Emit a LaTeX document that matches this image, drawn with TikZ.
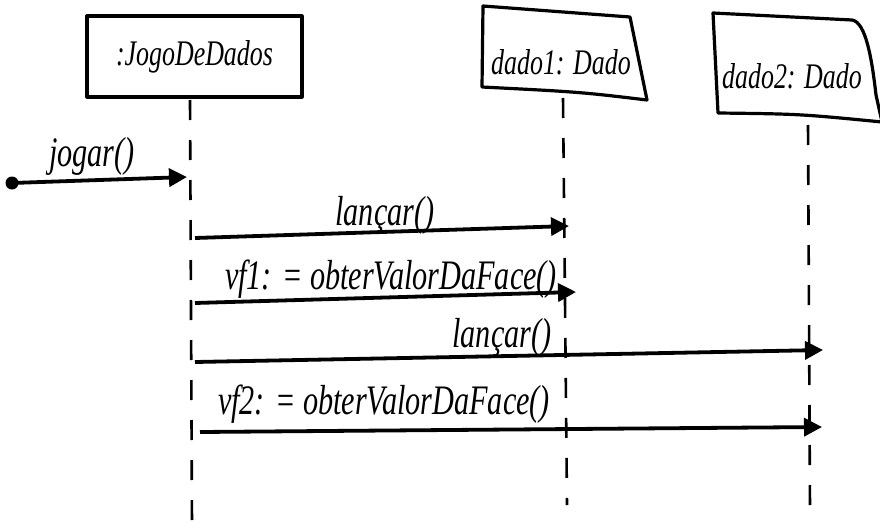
\documentclass[tikz,border=0pt]{standalone}
\usepackage{fontspec}
\setmainfont{Liberation Serif}
\newfontfamily\hand[FakeStretch=0.72]{Liberation Serif}
\usetikzlibrary{arrows.meta}
\begin{document}
\begin{tikzpicture}[x=1pt,y=-1pt,
  obj/.style={draw, line width=3.2pt, line join=round},
  life/.style={line width=2.6pt, dash pattern=on 20pt off 20pt},
  msg/.style={line width=3.8pt, -{Triangle[length=18pt,width=18pt]}},
  lbl/.style={font=\hand\itshape\fontsize{42}{42}\selectfont, inner sep=0pt},
  otxt/.style={font=\hand\itshape\fontsize{36}{36}\selectfont, inner sep=0pt}]
\useasboundingbox (0,0) rectangle (880,530);
% objects
\node[obj, otxt, minimum width=215pt, minimum height=81pt] (jogo) at (194.5,56.5) {:JogoDeDados};
\draw[obj] (483,6) -- (630,17) -- (647,100) .. controls (580,92) .. (482,87) -- cycle;
\node[otxt] (d1) at (561,62) {dado1: Dado};
\draw[obj] (713,13) -- (852,20) .. controls (866,22) and (872,60) .. (876,95) -- (882,122) .. controls (800,114) .. (718,113) -- cycle;
\node[otxt] (d2) at (792,76) {dado2: Dado};
% lifelines
\coordinate (l1t) at (190,100);
\coordinate (l1b) at (192,525);
\coordinate (l2t) at (563,98);
\coordinate (l2b) at (567,505);
\coordinate (l3t) at (808,125);
\coordinate (l3b) at (810,510);
\draw[life] (l1t) -- (l1b);
\draw[life] (l2t) -- (l2b);
\draw[life] (l3t) -- (l3b);
% messages
\coordinate (m0s) at (12,183);
\coordinate (m0e) at (187,177);
\fill (m0s) circle (6.5pt);
\draw[msg] (m0s) -- (m0e);
\node[lbl] (t0) at (92,156) {jogar()};
\coordinate (m1s) at (195,238);
\coordinate (m1e) at (569,226);
\draw[msg] (m1s) -- (m1e);
\node[lbl] (t1) at (385,215) {lançar()};
\coordinate (m2s) at (195,303);
\coordinate (m2e) at (576,292);
\draw[msg] (m2s) -- (m2e);
\node[lbl] (t2) at (391,279) {vf1: = obterValorDaFace()};
\coordinate (m3s) at (195,362);
\coordinate (m3e) at (823,350);
\draw[msg] (m3s) -- (m3e);
\node[lbl] (t3) at (502,337) {lançar()};
\coordinate (m4s) at (200,432);
\coordinate (m4e) at (822,427);
\draw[msg] (m4s) -- (m4e);
\node[lbl] (t4) at (384,404) {vf2: = obterValorDaFace()};
\end{tikzpicture}
\end{document}
